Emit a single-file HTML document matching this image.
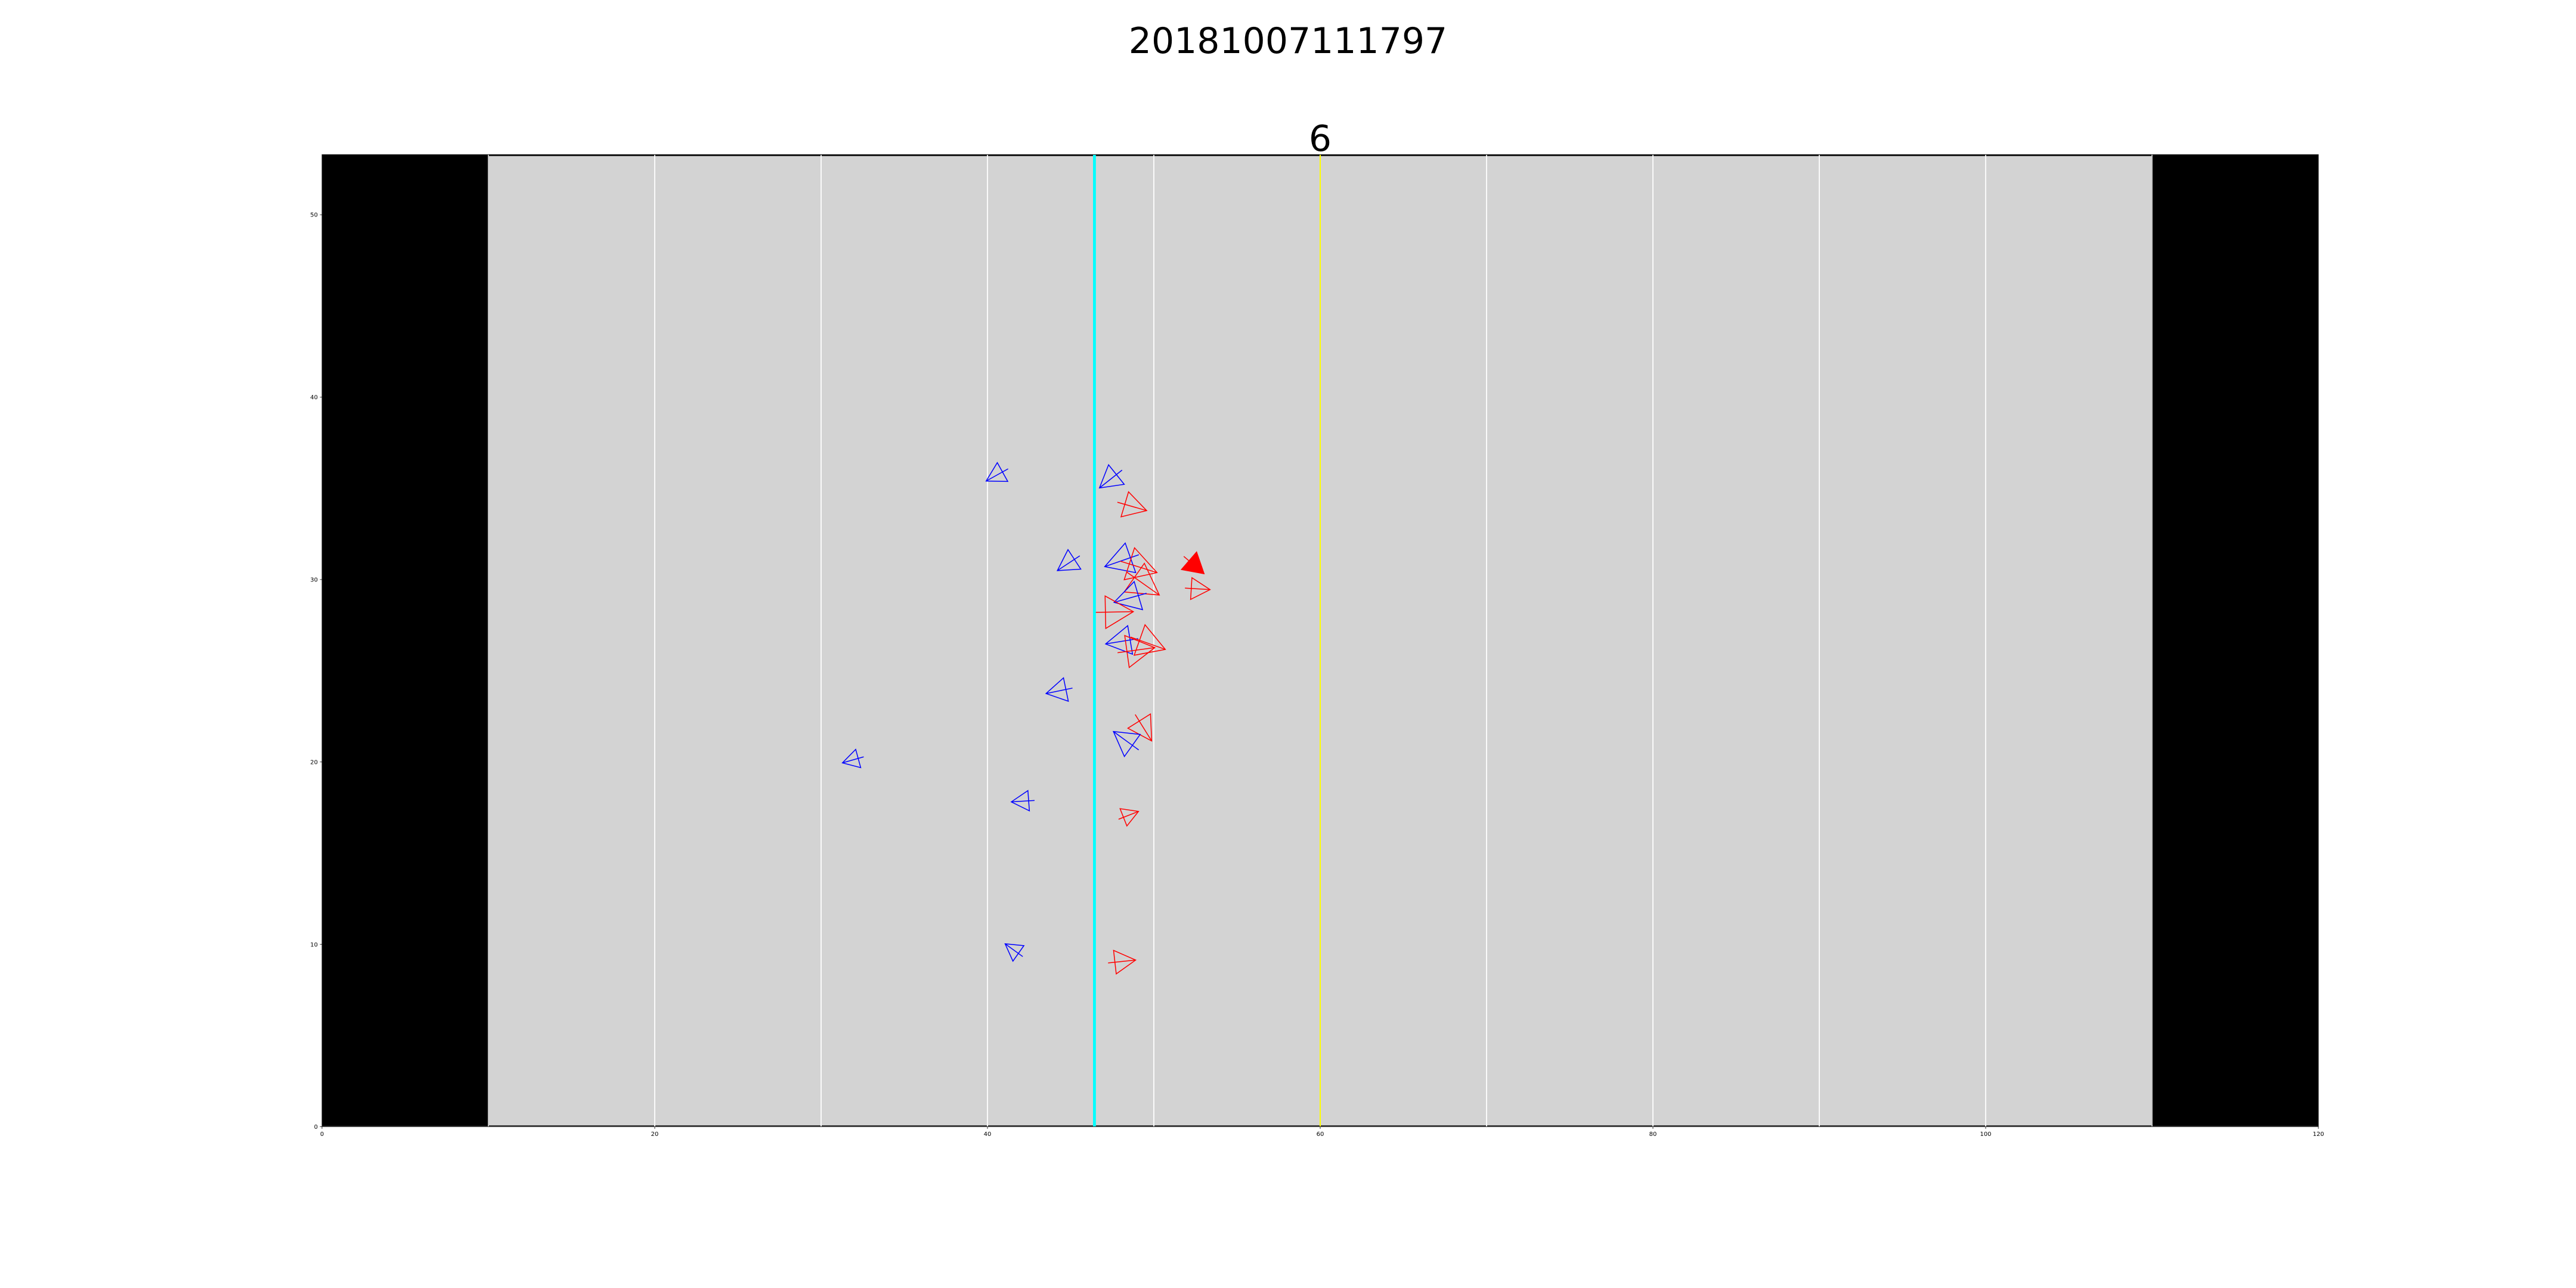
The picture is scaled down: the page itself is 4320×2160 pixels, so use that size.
<!DOCTYPE html>
<html lang="en">
<head>
<meta charset="utf-8">
<title>20181007111797</title>
<style>
html,body{margin:0;padding:0;background:#fff;width:4320px;height:2160px;overflow:hidden}
svg{display:block}
text{font-family:"DejaVu Sans","Liberation Sans",sans-serif;fill:#000}
</style>
</head>
<body>
<svg id="chart" xmlns="http://www.w3.org/2000/svg" width="4320" height="2160" viewBox="0 0 4320 2160">
  <rect x="0" y="0" width="4320" height="2160" fill="#ffffff"/>
  <text x="2160" y="89" font-size="60" text-anchor="middle">20181007111797</text>
  <text x="2214" y="253" font-size="60" text-anchor="middle">6</text>
  <g id="plot"></g>
</svg>
<script>
// Axis domain
const xDomain = [0, 120];
const yDomain = [0, 53.3];

// Tick labels
const xTickLabels = [0, 20, 40, 60, 80, 100, 120];
const yTickLabels = [0, 10, 20, 30, 40, 50];

// Field features (yards)
const fieldExtent = [10, 110];
const yardLines = [20, 30, 40, 50, 60, 70, 80, 90, 100];
const goalLines = [10, 110];
const scrimmageLine = 46.43;
const firstDownLine = 60;

// Players: team, anchor vertex (yards)
const playerTeam = ['b','b','r','b','b','r','r','b','r','r','r','b','r','r','b','r','b','r','b','b','b','r'];
const playerFilled = [0,0,0,0,0,0,0,0,1,0,0,0,0,0,0,0,0,0,0,0,0,0];
const playerX = [39.92,46.73,49.57,44.20,47.05,50.19,50.33,47.61,53.02,53.38,48.77,47.10,50.06,50.69,43.52,49.87,47.57,49.08,41.43,31.28,41.06,48.91];
const playerY = [35.40,35.02,33.78,30.49,30.71,30.38,29.15,28.75,30.32,29.45,28.24,26.47,26.27,26.17,23.75,21.15,21.67,17.29,17.81,19.95,10.03,9.14];

// Marker shape offsets from the anchor (yards)
const cornerAdx = [0.67,0.55,-1.09,0.64,1.23,-1.35,-0.90,1.21,-0.45,-1.09,-1.70,1.33,-1.81,-1.22,1.05,-0.07,1.61,-1.11,1.00,0.80,1.13,-1.33];
const cornerAdy = [1.01,1.27,1.03,1.15,1.29,1.36,1.74,1.14,1.19,0.65,0.86,1.00,0.66,1.35,0.86,1.48,-0.16,0.15,0.62,0.74,-0.10,0.53];
const cornerBdx = [1.30,1.49,-1.54,1.41,1.86,-1.97,-2.11,1.71,-1.36,-1.17,-1.66,1.62,-1.54,-1.87,1.34,-1.43,0.66,-0.70,1.09,1.10,0.47,-1.17];
const cornerBdy = [-0.02,0.20,-0.34,0.08,-0.33,-0.39,0.17,-0.40,0.23,-0.54,-0.92,-0.56,-1.09,-0.32,-0.42,0.70,-1.37,-0.80,-0.49,-0.26,-0.95,-0.76];
const headingDx = [1.32,1.36,-1.76,1.35,2.05,-2.21,-1.97,1.95,-1.22,-1.51,-2.40,1.96,-2.24,-2.09,1.59,-0.99,1.52,-1.20,1.40,1.28,1.06,-1.66];
const headingDy = [0.67,0.98,0.46,0.81,0.65,0.63,1.27,0.50,0.95,0.08,-0.04,0.29,-0.28,0.68,0.30,1.45,-1.01,-0.43,0.08,0.33,-0.70,-0.16];

const AX_LEFT = 540, AX_RIGHT = 3888, AX_TOP = 259.2, AX_BOTTOM = 1889.6;
function xScale(v){ return AX_LEFT + (v - xDomain[0]) / (xDomain[1] - xDomain[0]) * (AX_RIGHT - AX_LEFT); }
function yScale(v){ return AX_BOTTOM - (v - yDomain[0]) / (yDomain[1] - yDomain[0]) * (AX_BOTTOM - AX_TOP); }

const NS = 'http://www.w3.org/2000/svg';
const plot = document.getElementById('plot');
function mk(tag, attrs, parent){
  const el = document.createElementNS(NS, tag);
  for (const k in attrs) el.setAttribute(k, attrs[k]);
  (parent || plot).appendChild(el);
  return el;
}
function vLine(x, y1, y2, color, width, parent){
  return mk('line', {x1:x, x2:x, y1:y1, y2:y2, stroke:color, 'stroke-width':width}, parent);
}

// End zones
let el;
el = mk('rect', {x:xScale(xDomain[0]), y:AX_TOP, width:xScale(fieldExtent[0])-xScale(xDomain[0]), height:AX_BOTTOM-AX_TOP-0.8, fill:'#000000'});


el = mk('rect', {x:xScale(fieldExtent[1]), y:AX_TOP, width:xScale(xDomain[1])-xScale(fieldExtent[1]), height:AX_BOTTOM-AX_TOP-0.8, fill:'#000000'});



// Field
el = mk('rect', {x:xScale(fieldExtent[0]), y:AX_TOP, width:xScale(fieldExtent[1])-xScale(fieldExtent[0]), height:AX_BOTTOM-AX_TOP, fill:'#d3d3d3'});


el = mk('line', {x1:xScale(fieldExtent[0])+1, x2:xScale(fieldExtent[1])-1, y1:AX_TOP+1.2, y2:AX_TOP+1.2, stroke:'#000000', 'stroke-width':2.4});


el = mk('line', {x1:xScale(fieldExtent[0])+1, x2:xScale(fieldExtent[1])-1, y1:AX_BOTTOM-1.6, y2:AX_BOTTOM-1.6, stroke:'#111111', 'stroke-width':1.5});



// Goal lines
goalLines.forEach(function(v){
  const g = vLine(xScale(v), AX_TOP+0.4, AX_BOTTOM, '#c6c6c6', 1.8);
  
  
});

// Yard lines
yardLines.forEach(function(v){
  const g = vLine(xScale(v), AX_TOP+0.6, AX_BOTTOM-0.6, '#ffffff', 1.8);
  
  
});

// Players
playerX.forEach(function(px, i){
  const color = playerTeam[i] === 'b' ? '#0000ff' : '#ff0000';
  const x0 = xScale(px), y0 = yScale(playerY[i]);
  const ax = xScale(px + cornerAdx[i]), ay = yScale(playerY[i] + cornerAdy[i]);
  const bx = xScale(px + cornerBdx[i]), by = yScale(playerY[i] + cornerBdy[i]);
  const hx = xScale(px + headingDx[i]), hy = yScale(playerY[i] + headingDy[i]);
  const group = mk('g', {});
  
  
  const tri = mk('polygon', {
    points: x0+','+y0+' '+ax+','+ay+' '+bx+','+by,
    fill: playerFilled[i] ? color : 'none',
    stroke: color,
    'stroke-width': 1.5,
    'stroke-linejoin': 'miter'
  }, group);
  
  
  const head = mk('line', {x1:x0, y1:y0, x2:hx, y2:hy, stroke:color, 'stroke-width':1.5}, group);
  
  
});

// Line of scrimmage and first down
el = vLine(xScale(scrimmageLine), AX_TOP+0.6, AX_BOTTOM-0.4, '#00ffff', 4.8);


el = vLine(xScale(firstDownLine), AX_TOP+0.6, AX_BOTTOM-0.4, '#ffff00', 2);



// Spines
el = mk('rect', {x:AX_LEFT, y:AX_TOP, width:AX_RIGHT-AX_LEFT, height:AX_BOTTOM-AX_TOP, fill:'none', stroke:'#1a1a1a', 'stroke-width':0.9});



// X ticks
xTickLabels.forEach(function(v){
  const x = xScale(v);
  const t = mk('line', {x1:x, x2:x, y1:AX_BOTTOM, y2:AX_BOTTOM+3.5, stroke:'#000000', 'stroke-width':0.8});
  
  
  const l = mk('text', {x:x, y:AX_BOTTOM+15.4, 'font-size':10, 'text-anchor':'middle'});
  l.textContent = String(v);
  
  
});

// Y ticks
yTickLabels.forEach(function(v){
  const y = yScale(v);
  const t = mk('line', {x1:AX_LEFT-3.5, x2:AX_LEFT, y1:y, y2:y, stroke:'#000000', 'stroke-width':0.8});
  
  
  const l = mk('text', {x:AX_LEFT-7, y:y+3.6, 'font-size':10, 'text-anchor':'end'});
  l.textContent = String(v);
  
  
});
</script>
</body>
</html>
